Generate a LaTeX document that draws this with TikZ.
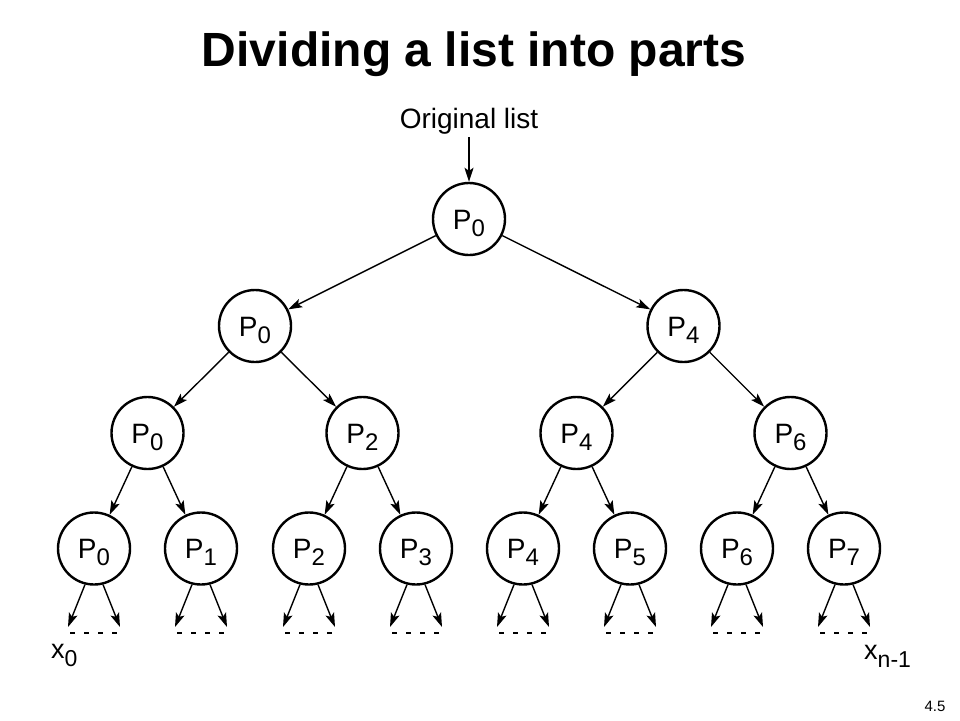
\documentclass[tikz,border=0pt]{standalone}
\usepackage{fontspec}
\setmainfont{Liberation Sans}
\usetikzlibrary{arrows.meta}
\newcommand{\Plab}[1]{\fontsize{28}{30}\selectfont P\raisebox{-7pt}{\fontsize{24}{26}\selectfont #1}}
\newcommand{\Xlab}[1]{\fontsize{27}{30}\selectfont x\raisebox{-8pt}{\fontsize{23}{24}\selectfont #1}}
\begin{document}
\begin{tikzpicture}[x=1pt,y=-1pt,
  proc/.style={circle,draw,line width=2.4pt,minimum size=72pt,inner sep=0pt,text height=20pt,text depth=0pt},
  arr/.style={line width=1.4pt,-{Stealth[length=14pt,width=9pt,inset=3pt]}},
  dots/.style={line width=2.5pt,dash pattern=on 5pt off 9pt}]
\useasboundingbox (0,0) rectangle (960,720);
\fill[white] (0,0) rectangle (960,720);
% title
\node[font=\fontsize{48}{50}\selectfont\bfseries, anchor=base] (title) at (474,66) {Dividing a list into parts};
\node[font=\fontsize{28}{30}\selectfont, anchor=base, inner sep=3pt] (orig) at (469,128) {Original list};
% tree
\node[proc] (a) at (469,219) {\Plab{0}};
\node[proc] (b0) at (255,326) {\Plab{0}};
\node[proc] (b1) at (683.5,326) {\Plab{4}};
\node[proc] (c0) at (147.5,433) {\Plab{0}};
\node[proc] (c1) at (362.5,433) {\Plab{2}};
\node[proc] (c2) at (576.5,433) {\Plab{4}};
\node[proc] (c3) at (790.5,433) {\Plab{6}};
\foreach \i/\x in {0/94,1/201,2/309,3/416,4/523,5/630,6/737,7/844}{
  \node[proc] (d\i) at (\x,548.5) {\Plab{\i}};
  \coordinate (l\i) at (\x-26,627);
  \coordinate (r\i) at (\x+26,627);
  \coordinate (ds\i) at (\x-24,633);
  \coordinate (de\i) at (\x+24,633);
  \draw[arr] (d\i.-104) -- (l\i);
  \draw[arr] (d\i.-76) -- (r\i);
  \draw[dots] (ds\i) -- (de\i);
}
\draw[arr] (orig) -- (a);
\draw[arr] (a) -- (b0);
\draw[arr] (a) -- (b1);
\draw[arr] (b0) -- (c0);
\draw[arr] (b0) -- (c1);
\draw[arr] (b1) -- (c2);
\draw[arr] (b1) -- (c3);
\draw[arr] (c0) -- (d0);
\draw[arr] (c0) -- (d1);
\draw[arr] (c1) -- (d2);
\draw[arr] (c1) -- (d3);
\draw[arr] (c2) -- (d4);
\draw[arr] (c2) -- (d5);
\draw[arr] (c3) -- (d6);
\draw[arr] (c3) -- (d7);
% end labels
\node[anchor=base west, inner sep=0pt] (x0) at (51,658) {\Xlab{0}};
\node[anchor=base west, inner sep=0pt] (xn) at (864,659) {\Xlab{n-1}};
\node[anchor=base, font=\fontsize{15}{18}\selectfont] (pg) at (935,711) {4.5};
\end{tikzpicture}
\end{document}
